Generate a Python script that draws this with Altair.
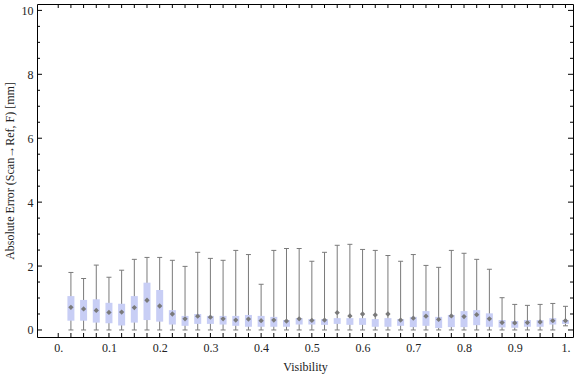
import altair as alt
import pandas as pd

# ---- data ----
visibility = [0.025, 0.05, 0.075, 0.1, 0.125, 0.15, 0.175, 0.2, 0.225, 0.25,
              0.275, 0.3, 0.325, 0.35, 0.375, 0.4, 0.425, 0.45, 0.475, 0.5,
              0.525, 0.55, 0.575, 0.6, 0.625, 0.65, 0.675, 0.7, 0.725, 0.75,
              0.775, 0.8, 0.825, 0.85, 0.875, 0.9, 0.925, 0.95, 0.975, 1.0]
upper = [1.80, 1.61, 2.03, 1.65, 1.87, 2.21, 2.27, 2.27, 2.18, 1.99,
         2.43, 2.24, 2.18, 2.49, 2.36, 1.43, 2.49, 2.55, 2.55, 2.15,
         2.43, 2.65, 2.68, 2.52, 2.49, 2.33, 2.15, 2.36, 2.02, 1.96,
         2.49, 2.40, 2.21, 1.90, 1.01, 0.80, 0.77, 0.80, 0.83, 0.74]
q3 = [1.06, 0.94, 0.96, 0.85, 0.82, 1.06, 1.48, 1.25, 0.62, 0.44,
      0.50, 0.44, 0.44, 0.44, 0.47, 0.44, 0.41, 0.31, 0.37, 0.34,
      0.34, 0.37, 0.37, 0.37, 0.34, 0.37, 0.34, 0.41, 0.59, 0.41,
      0.47, 0.59, 0.62, 0.52, 0.31, 0.28, 0.31, 0.31, 0.37, 0.31]
q1 = [0.29, 0.29, 0.23, 0.21, 0.14, 0.23, 0.31, 0.26, 0.17, 0.13,
      0.19, 0.19, 0.17, 0.13, 0.10, 0.10, 0.10, 0.10, 0.17, 0.17,
      0.16, 0.19, 0.16, 0.16, 0.10, 0.10, 0.13, 0.09, 0.13, 0.06,
      0.09, 0.09, 0.15, 0.10, 0.08, 0.07, 0.10, 0.10, 0.17, 0.19]
mean = [0.71, 0.66, 0.61, 0.55, 0.56, 0.70, 0.93, 0.75, 0.50, 0.35,
        0.43, 0.40, 0.35, 0.31, 0.34, 0.29, 0.31, 0.28, 0.35, 0.30,
        0.31, 0.54, 0.44, 0.50, 0.47, 0.50, 0.31, 0.37, 0.43, 0.33,
        0.44, 0.42, 0.48, 0.35, 0.23, 0.22, 0.23, 0.25, 0.29, 0.29]
lower = [0.0] * 39 + [0.13]

x_label_values = [0.0, 0.1, 0.2, 0.3, 0.4, 0.5, 0.6, 0.7, 0.8, 0.9, 1.0]
x_tick_values = [0.0, 0.025, 0.05, 0.075, 0.1, 0.125, 0.15, 0.175, 0.2, 0.225,
                 0.25, 0.275, 0.3, 0.325, 0.35, 0.375, 0.4, 0.425, 0.45, 0.475,
                 0.5, 0.525, 0.55, 0.575, 0.6, 0.625, 0.65, 0.675, 0.7, 0.725,
                 0.75, 0.775, 0.8, 0.825, 0.85, 0.875, 0.9, 0.925, 0.95, 0.975, 1.0]
y_label_values = [0, 2, 4, 6, 8, 10]
y_minor_values = [0.5, 1, 1.5, 2.5, 3, 3.5, 4.5, 5, 5.5, 6.5, 7, 7.5, 8.5, 9, 9.5]

df = pd.DataFrame(dict(visibility=visibility, lower=lower, q1=q1, q3=q3,
                       upper=upper, mean=mean))

W, H = 536, 333
FONT = "Liberation Serif"
GRAY = "#7a7a7a"
BOX = "#c8cef5"

xscale = alt.Scale(domain=[-0.032, 1.005], nice=False, zero=False)
yscale = alt.Scale(domain=[-0.22, 10.2], nice=False, zero=False)

x_axis = alt.Axis(values=x_label_values, ticks=False, domain=False, grid=False,
                  labelExpr="datum.value == 0 ? '0.' : datum.value == 1 ? '1.' : format(datum.value, '.1f')",
                  labelPadding=5, title="Visibility", titlePadding=8,
                  labelFont=FONT, labelFontSize=12, labelColor="#222",
                  titleFont=FONT, titleFontSize=12, titleFontWeight="normal",
                  titleColor="#222", labelFlush=False)
y_axis = alt.Axis(values=y_label_values, ticks=False, domain=False, grid=False,
                  labelPadding=4, title="Absolute Error (Scan\u2192Ref, F) [mm]",
                  titlePadding=5, labelFont=FONT, labelFontSize=12, labelColor="#222",
                  titleFont=FONT, titleFontSize=12, titleFontWeight="normal",
                  titleColor="#222", labelFlush=False)

X = alt.X("visibility:Q", scale=xscale, axis=x_axis)
base = alt.Chart(df)

whisker = base.mark_rule(color=GRAY, strokeWidth=1).encode(
    x=X, y=alt.Y("lower:Q", scale=yscale, axis=y_axis), y2="upper:Q")
cap_hi = base.mark_tick(orient="horizontal", size=5, thickness=1, color=GRAY, opacity=1).encode(
    x=X, y=alt.Y("upper:Q", scale=yscale, axis=y_axis))
cap_lo = base.mark_tick(orient="horizontal", size=5, thickness=1, color=GRAY, opacity=1).encode(
    x=X, y=alt.Y("lower:Q", scale=yscale, axis=y_axis))
box = base.mark_bar(size=7, color=BOX).encode(
    x=X, y=alt.Y("q1:Q", scale=yscale, axis=y_axis), y2="q3:Q")
dots = base.mark_point(shape="diamond", filled=True, size=28, color=GRAY, opacity=1).encode(
    x=X, y=alt.Y("mean:Q", scale=yscale, axis=y_axis))

# frame ticks (inward), positioned by the scales
xt = alt.Chart(pd.DataFrame({"t": x_tick_values}))
XT = alt.X("t:Q", scale=xscale, axis=x_axis)
tick_bottom = xt.mark_rule(color="black").encode(x=XT, y=alt.value(H), y2=alt.value(H - 4))
tick_top = xt.mark_rule(color="black").encode(x=XT, y=alt.value(0), y2=alt.value(4))

ymaj = alt.Chart(pd.DataFrame({"t": y_label_values}))
ymin = alt.Chart(pd.DataFrame({"t": y_minor_values}))
YT = alt.Y("t:Q", scale=yscale, axis=y_axis)
tick_l_maj = ymaj.mark_rule(color="black").encode(y=YT, x=alt.value(0), x2=alt.value(5))
tick_r_maj = ymaj.mark_rule(color="black").encode(y=YT, x=alt.value(W), x2=alt.value(W - 5))
tick_l_min = ymin.mark_rule(color="black").encode(y=YT, x=alt.value(0), x2=alt.value(3))
tick_r_min = ymin.mark_rule(color="black").encode(y=YT, x=alt.value(W), x2=alt.value(W - 3))

chart = alt.layer(
    whisker, cap_hi, cap_lo, box, dots,
    tick_bottom, tick_top, tick_l_maj, tick_r_maj, tick_l_min, tick_r_min
).properties(
    width=W, height=H,
    autosize=alt.AutoSizeParams(type="none"),
    padding={"left": 37, "top": 4, "right": 3, "bottom": 40},
    background="white",
).configure_view(stroke="black", strokeWidth=1)

chart.save("out.html", embed_options={"renderer": "svg", "actions": False})
